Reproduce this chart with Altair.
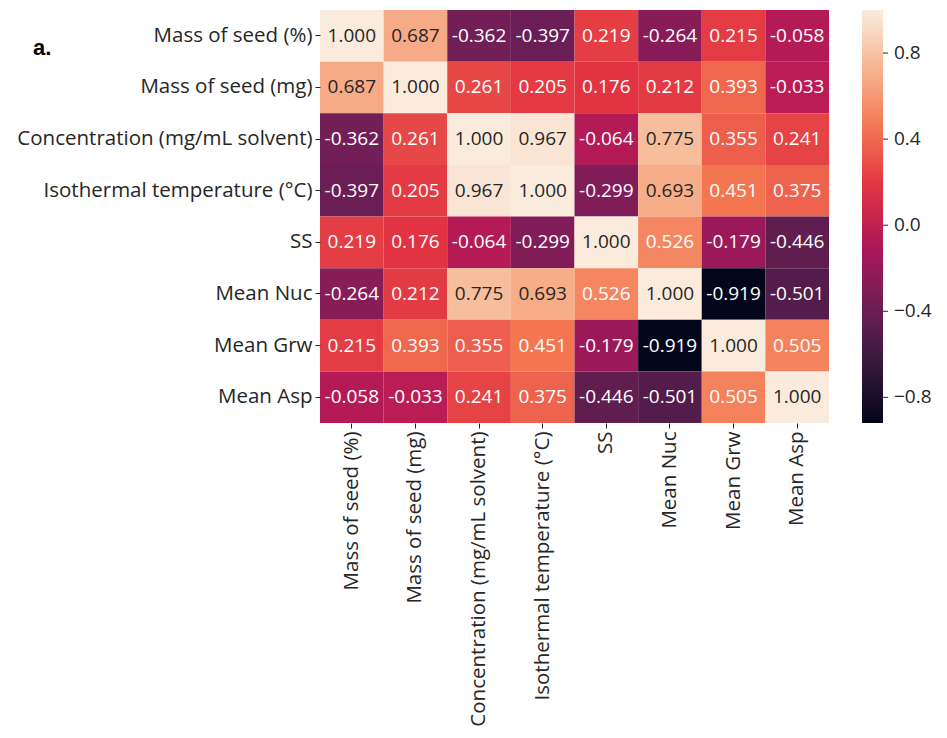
import altair as alt
import pandas as pd

labels = ["Mass of seed (%)", "Mass of seed (mg)", "Concentration (mg/mL solvent)",
          "Isothermal temperature (°C)", "SS", "Mean Nuc", "Mean Grw", "Mean Asp"]

r1 = [1.000, 0.687, -0.362, -0.397, 0.219, -0.264, 0.215, -0.058]
r2 = [0.687, 1.000, 0.261, 0.205, 0.176, 0.212, 0.393, -0.033]
r3 = [-0.362, 0.261, 1.000, 0.967, -0.064, 0.775, 0.355, 0.241]
r4 = [-0.397, 0.205, 0.967, 1.000, -0.299, 0.693, 0.451, 0.375]
r5 = [0.219, 0.176, -0.064, -0.299, 1.000, 0.526, -0.179, -0.446]
r6 = [-0.264, 0.212, 0.775, 0.693, 0.526, 1.000, -0.919, -0.501]
r7 = [0.215, 0.393, 0.355, 0.451, -0.179, -0.919, 1.000, 0.505]
r8 = [-0.058, -0.033, 0.241, 0.375, -0.446, -0.501, 0.505, 1.000]
rows_vals = [r1, r2, r3, r4, r5, r6, r7, r8]

legend_ticks = [-0.8, -0.4, 0.0, 0.4, 0.8]

vmin, vmax = -0.919, 1.0
rocket_pos = [0.0, 1/7, 2/7, 3/7, 4/7, 5/7, 6/7, 1.0]
rocket_colors = ["#03051a", "#35193e", "#701f57", "#ad1759", "#e13342",
                 "#f37651", "#f6b48f", "#faebdd"]
stops = [vmin + p * (vmax - vmin) for p in rocket_pos]

records = []
for i, rl in enumerate(labels):
    for j, cl in enumerate(labels):
        v = rows_vals[i][j]
        records.append({"row": rl, "col": cl, "value": v, "txt": f"{v:.3f}"})
df = pd.DataFrame(records)
ticks_df = pd.DataFrame({"tick": legend_ticks})

FONT = "Open Sans"
LFS = 20.5
CFS = 19
TXT = "#262626"
CB_X = 542
CB_W = 21

xaxis = alt.Axis(labelAngle=-90, labelFontSize=LFS, labelFont=FONT, labelColor=TXT,
                 tickSize=5, tickColor=TXT, domain=False, labelLimit=500, labelPadding=3)
yaxis = alt.Axis(labelFontSize=LFS, labelFont=FONT, labelColor=TXT,
                 tickSize=5, tickColor=TXT, domain=False, labelLimit=500, labelPadding=3)

base = alt.Chart(df).encode(
    x=alt.X("col:N", sort=labels, title=None, axis=xaxis,
            scale=alt.Scale(paddingInner=0, paddingOuter=0)),
    y=alt.Y("row:N", sort=labels, title=None, axis=yaxis,
            scale=alt.Scale(paddingInner=0, paddingOuter=0)),
)

rect = base.mark_rect().encode(
    color=alt.Color(
        "value:Q",
        scale=alt.Scale(domain=stops, range=rocket_colors, interpolate="rgb"),
        legend=alt.Legend(
            title=None, orient="none", legendX=CB_X, legendY=0,
            direction="vertical", gradientLength=413, gradientThickness=CB_W,
            values=legend_ticks, labelFontSize=CFS, labelFont=FONT, labelColor=TXT,
            labelOffset=11,
            labelExpr="replace(format(datum.value, '.1f'), '-', '\u2212')",
        ),
    )
)

text = base.mark_text(fontSize=CFS, font=FONT).encode(
    text="txt:N",
    color=alt.condition("datum.value > 0.6", alt.value(TXT), alt.value("#ffffff")),
)

heat = alt.layer(rect, text)

cb_ticks = alt.Chart(ticks_df).mark_rule(color=TXT, strokeWidth=1).encode(
    y=alt.Y("tick:Q", axis=None, scale=alt.Scale(domain=[vmin, vmax], nice=False, zero=False)),
    x=alt.value(CB_X + CB_W),
    x2=alt.value(CB_X + CB_W + 5),
)

tag = alt.Chart(pd.DataFrame({"t": ["a."]})).mark_text(
    font="Liberation Sans", fontSize=22, fontWeight="bold", align="left",
    baseline="middle", color="#000000"
).encode(text="t:N", x=alt.value(-287), y=alt.value(38))

chart = alt.layer(heat, cb_ticks, tag).resolve_scale(y="independent").properties(
    width=509, height=413,
    autosize=alt.AutoSizeParams(type="none"),
    padding={"left": 312, "top": 2, "right": 110, "bottom": 310},
).configure_view(stroke=None)

chart.save("out.html", embed_options={"renderer": "svg", "actions": False})
